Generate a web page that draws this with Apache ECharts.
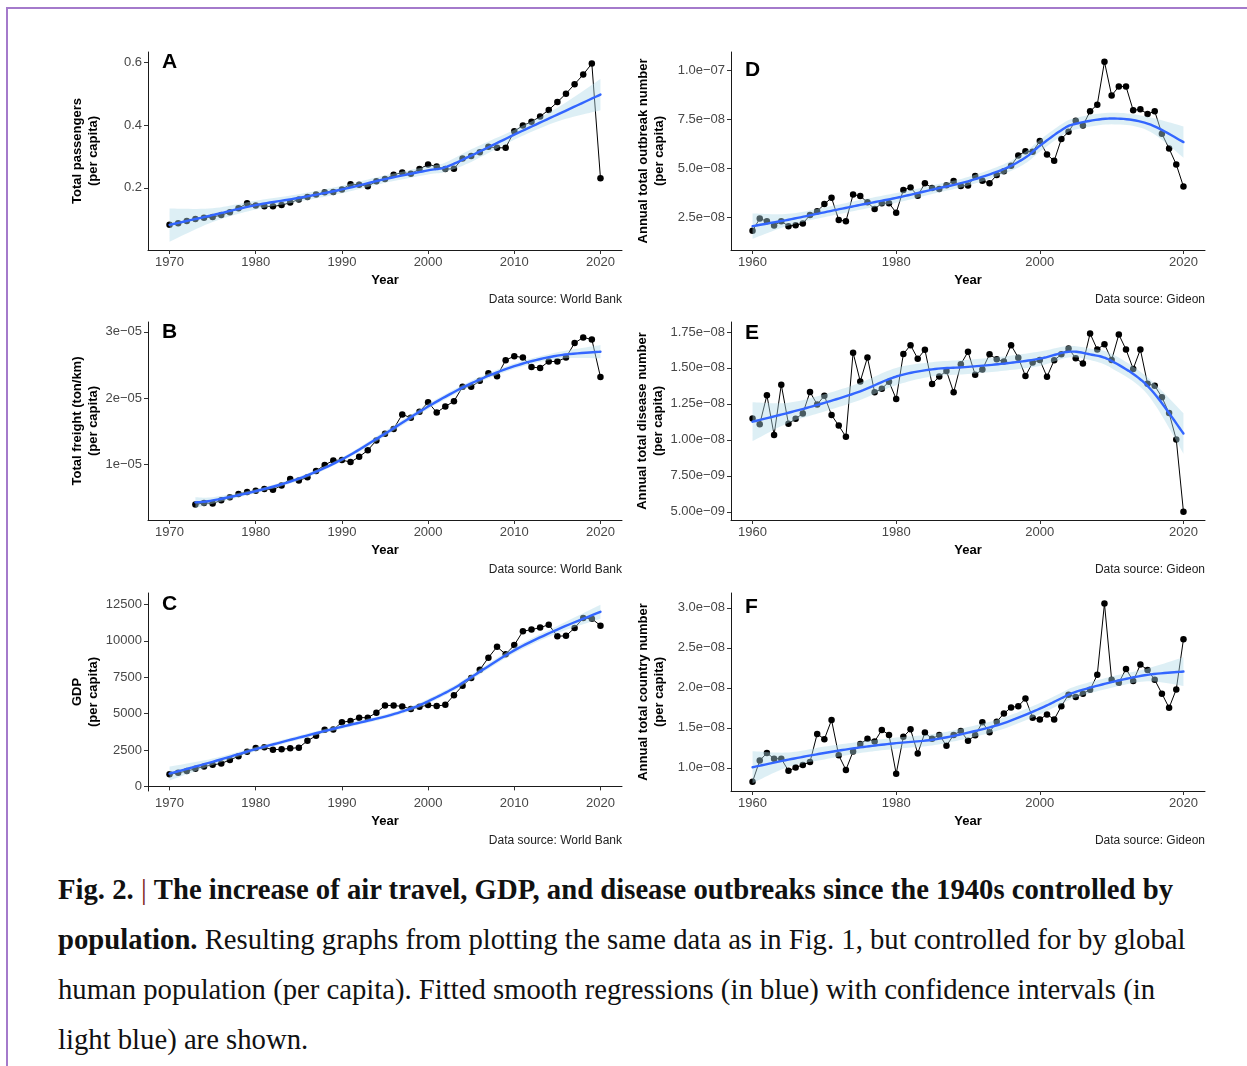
<!DOCTYPE html>
<html>
<head>
<meta charset="utf-8">
<title>Air travel, GDP and disease outbreaks per capita</title>
<script src="https://cdn.jsdelivr.net/npm/echarts@6/dist/echarts.min.js"></script>
<style>
  html, body { margin: 0; padding: 0; background: #ffffff; }
  #page { position: relative; width: 1247px; height: 1066px; overflow: hidden; background: #ffffff; }
  #frame { position: absolute; left: 6px; top: 7px; width: 1400px; height: 1200px;
           border-left: 2px solid #a47acb; border-top: 2px solid #a47acb; }
  #chart { position: absolute; left: 0; top: 0; width: 1247px; height: 860px; }
  #caption { position: absolute; left: 58px; top: 864px; font-family: 'Liberation Serif', 'Times New Roman', serif;
             font-size: 28.7px; line-height: 50px; color: #111; white-space: nowrap; }
  #caption .bar { color: #7a2020; font-weight: normal; }
</style>
</head>
<body>
<div id="page">
  <div id="frame"></div>
  <div id="chart"></div>
  <div id="caption">
    <div><b>Fig. 2.</b> <span class="bar">|</span> <b>The increase of air travel, GDP, and disease outbreaks since the 1940s controlled by</b></div>
    <div><b>population.</b> Resulting graphs from plotting the same data as in Fig. 1, but controlled for by global</div>
    <div>human population (per capita). Fitted smooth regressions (in blue) with confidence intervals (in</div>
    <div>light blue) are shown.</div>
  </div>
</div>
<script>
// ---------------- data ----------------
// A: total air passengers per capita, 1970-2020 (World Bank)
const passengersFirstYear = 1970;
const passengers = [
  0.082, 0.087, 0.094, 0.101, 0.105, 0.107, 0.113, 0.122, 0.135, 0.151,
  0.144, 0.141, 0.141, 0.145, 0.153, 0.163, 0.171, 0.179, 0.186, 0.187,
  0.195, 0.212, 0.210, 0.205, 0.221, 0.228, 0.242, 0.249, 0.245, 0.260,
  0.275, 0.268, 0.260, 0.261, 0.294, 0.302, 0.314, 0.331, 0.328, 0.328,
  0.381, 0.399, 0.411, 0.428, 0.449, 0.474, 0.501, 0.531, 0.562, 0.597,
  0.231
];
const passengersFitYears = [1970, 1975, 1980, 1985, 1990, 1995, 2000, 2002, 2005, 2010, 2015, 2020];
const passengersFit   = [0.082, 0.113, 0.145, 0.168, 0.195, 0.228, 0.256, 0.266, 0.303, 0.370, 0.434, 0.498];
const passengersLower = [0.028, 0.091, 0.131, 0.156, 0.183, 0.216, 0.243, 0.251, 0.283, 0.354, 0.412, 0.448];
const passengersUpper = [0.134, 0.135, 0.159, 0.180, 0.207, 0.240, 0.269, 0.281, 0.323, 0.386, 0.456, 0.548];

// B: total air freight (ton/km) per capita, 1973-2020, in units of 1e-5
const freightFirstYear = 1973;
const freight = [
  0.388, 0.413, 0.403, 0.453, 0.498, 0.547, 0.577,
  0.597, 0.622, 0.612, 0.677, 0.776, 0.751, 0.801, 0.896, 0.985, 1.055,
  1.060, 1.030, 1.109, 1.209, 1.358, 1.458, 1.532, 1.751, 1.701, 1.791,
  1.935, 1.781, 1.871, 1.950, 2.169, 2.169, 2.259, 2.373, 2.328, 2.572,
  2.632, 2.612, 2.468, 2.453, 2.552, 2.552, 2.612, 2.831, 2.915, 2.886,
  2.318
];
const freightFitYears = [1973, 1975, 1980, 1985, 1990, 1995, 2000, 2005, 2010, 2015, 2020];
const freightFit   = [0.42, 0.45, 0.59, 0.78, 1.07, 1.46, 1.87, 2.22, 2.48, 2.64, 2.70];
const freightLower = [0.34, 0.40, 0.56, 0.75, 1.04, 1.42, 1.83, 2.18, 2.44, 2.59, 2.60];
const freightUpper = [0.50, 0.50, 0.62, 0.81, 1.10, 1.50, 1.91, 2.26, 2.52, 2.69, 2.80];

// C: GDP per capita, 1970-2020
const gdpFirstYear = 1970;
const gdp = [
  826, 938, 1052, 1210, 1369, 1482, 1573, 1822, 2072, 2389,
  2638, 2684, 2525, 2548, 2616, 2661, 3137, 3477, 3885, 3908,
  4407, 4498, 4724, 4724, 5064, 5563, 5563, 5495, 5314, 5472,
  5586, 5518, 5608, 6266, 6923, 7445, 8011, 8850, 9598, 9077,
  9712, 10664, 10777, 10913, 11117, 10324, 10346, 10890, 11570, 11525,
  11049
];
const gdpFitYears = [1970, 1975, 1980, 1985, 1990, 1995, 1998, 2000, 2003, 2005, 2010, 2015, 2020];
const gdpFit   = [880, 1690, 2560, 3350, 4100, 4800, 5350, 5850, 6750, 7500, 9350, 10780, 12000];
const gdpLower = [400, 1470, 2410, 3210, 3960, 4660, 5200, 5690, 6580, 7320, 9150, 10530, 11520];
const gdpUpper = [1360, 1910, 2710, 3490, 4240, 4940, 5500, 6010, 6920, 7680, 9550, 11030, 12480];

// D: annual total outbreak number per capita, 1960-2020, in units of 1e-8 (Gideon)
const outbreaksFirstYear = 1960;
const outbreaks = [
  1.79, 2.42, 2.28, 2.06, 2.28, 2.03, 2.08, 2.16, 2.60, 2.79,
  3.16, 3.48, 2.35, 2.28, 3.65, 3.57, 3.25, 2.91, 3.21, 3.21,
  2.72, 3.89, 4.01, 3.59, 4.23, 3.99, 3.94, 4.13, 4.35, 4.09,
  4.11, 4.60, 4.36, 4.23, 4.65, 4.84, 5.13, 5.65, 5.87, 5.85,
  6.39, 5.70, 5.38, 6.50, 6.87, 7.44, 7.19, 7.92, 8.26, 10.46,
  8.73, 9.19, 9.19, 7.97, 8.02, 7.78, 7.92, 6.77, 6.01, 5.19,
  4.06
];
const outbreaksFitYears = [1960, 1965, 1970, 1975, 1980, 1985, 1990, 1995, 1998, 2000, 2003, 2005, 2010, 2015, 2020];
const outbreaksFit   = [2.03, 2.36, 2.74, 3.12, 3.48, 3.90, 4.33, 4.96, 5.55, 6.15, 6.95, 7.28, 7.55, 7.29, 6.34];
const outbreaksLower = [1.38, 2.06, 2.49, 2.87, 3.23, 3.68, 4.11, 4.71, 5.25, 5.85, 6.65, 6.98, 7.25, 6.94, 5.54];
const outbreaksUpper = [2.68, 2.66, 2.99, 3.37, 3.73, 4.12, 4.55, 5.21, 5.85, 6.45, 7.25, 7.58, 7.85, 7.64, 7.14];

// E: annual total disease number per capita, 1960-2020, in units of 1e-8 (Gideon)
const diseasesFirstYear = 1960;
const diseases = [
  1.149, 1.108, 1.310, 1.034, 1.383, 1.112, 1.147, 1.183, 1.333, 1.245,
  1.307, 1.172, 1.099, 1.021, 1.606, 1.406, 1.573, 1.330, 1.355, 1.404,
  1.284, 1.596, 1.658, 1.564, 1.626, 1.388, 1.440, 1.479, 1.330, 1.525,
  1.612, 1.452, 1.489, 1.594, 1.560, 1.544, 1.658, 1.571, 1.443, 1.537,
  1.555, 1.438, 1.553, 1.594, 1.635, 1.567, 1.530, 1.739, 1.628, 1.665,
  1.555, 1.732, 1.628, 1.493, 1.628, 1.390, 1.376, 1.296, 1.186, 1.002,
  0.500
];
const diseasesFitYears = [1960, 1965, 1970, 1975, 1980, 1985, 1990, 1995, 2000, 2004, 2007, 2010, 2015, 2020];
const diseasesFit   = [1.126, 1.188, 1.257, 1.337, 1.440, 1.490, 1.507, 1.530, 1.564, 1.612, 1.594, 1.548, 1.375, 1.044];
const diseasesLower = [0.991, 1.118, 1.197, 1.277, 1.380, 1.440, 1.457, 1.480, 1.514, 1.572, 1.554, 1.498, 1.315, 0.904];
const diseasesUpper = [1.261, 1.258, 1.317, 1.397, 1.500, 1.540, 1.557, 1.580, 1.614, 1.652, 1.634, 1.598, 1.435, 1.184];

// F: annual total country number per capita, 1960-2020, in units of 1e-8 (Gideon)
const countriesFirstYear = 1960;
const countries = [
  0.827, 1.091, 1.186, 1.115, 1.115, 0.963, 1.004, 1.037, 1.074, 1.425,
  1.359, 1.598, 1.157, 0.975, 1.206, 1.297, 1.363, 1.330, 1.474, 1.412,
  0.926, 1.388, 1.482, 1.181, 1.441, 1.363, 1.412, 1.276, 1.412, 1.462,
  1.338, 1.408, 1.569, 1.445, 1.577, 1.680, 1.755, 1.771, 1.866, 1.627,
  1.606, 1.668, 1.606, 1.771, 1.915, 1.887, 1.928, 1.977, 2.163, 3.054,
  2.101, 2.064, 2.237, 2.085, 2.291, 2.225, 2.101, 1.928, 1.751, 1.981,
  2.608
];
const countriesFitYears = [1960, 1965, 1970, 1975, 1980, 1985, 1990, 1995, 2000, 2003, 2005, 2010, 2015, 2020];
const countriesFit   = [1.008, 1.103, 1.186, 1.256, 1.309, 1.351, 1.440, 1.560, 1.740, 1.870, 1.950, 2.072, 2.163, 2.204];
const countriesLower = [0.808, 1.013, 1.106, 1.186, 1.239, 1.281, 1.370, 1.490, 1.670, 1.800, 1.880, 2.002, 2.083, 2.024];
const countriesUpper = [1.208, 1.193, 1.266, 1.326, 1.379, 1.421, 1.510, 1.630, 1.810, 1.940, 2.020, 2.142, 2.243, 2.384];

// tick positions and labels
const yearTicks1970 = [1970, 1980, 1990, 2000, 2010, 2020];
const yearTicks1960 = [1960, 1980, 2000, 2020];
const passengerTicks = [0.2, 0.4, 0.6];
const passengerTickLabels = ['0.2', '0.4', '0.6'];
const freightTicks = [1, 2, 3];
const freightTickLabels = ['1e\u221205', '2e\u221205', '3e\u221205'];
const gdpTicks = [0, 2500, 5000, 7500, 10000, 12500];
const gdpTickLabels = ['0', '2500', '5000', '7500', '10000', '12500'];
const outbreakTicks = [2.5, 5.0, 7.5, 10.0];
const outbreakTickLabels = ['2.5e\u221208', '5.0e\u221208', '7.5e\u221208', '1.0e\u221207'];
const diseaseTicks = [0.5, 0.75, 1.0, 1.25, 1.5, 1.75];
const diseaseTickLabels = ['5.00e\u221209', '7.50e\u221209', '1.00e\u221208', '1.25e\u221208', '1.50e\u221208', '1.75e\u221208'];
const countryTicks = [1.0, 1.5, 2.0, 2.5, 3.0];
const countryTickLabels = ['1.0e\u221208', '1.5e\u221208', '2.0e\u221208', '2.5e\u221208', '3.0e\u221208'];

// ---------------- layout ----------------
const FONT = "'Liberation Sans', Arial, Helvetica, sans-serif";
const POINT_COLOR = '#000000';
const FIT_COLOR = '#3366FF';
const BAND_FILL = 'rgba(173, 216, 230, 0.42)';

const panels = [
  { letter: 'A', left: 148, top: 52, xMin: 1967.5, xMax: 2022.5, xTicks: yearTicks1970,
    yMin: 0.0016, yMax: 0.634, yTicks: passengerTicks, yLabels: passengerTickLabels,
    first: passengersFirstYear, values: passengers,
    fitYears: passengersFitYears, fit: passengersFit, lower: passengersLower, upper: passengersUpper,
    title: 'Total passengers\n(per capita)', nameGap: 47, source: 'Data source: World Bank', letterY: 62 },
  { letter: 'B', left: 148, top: 322, xMin: 1967.5, xMax: 2022.5, xTicks: yearTicks1970,
    yMin: 0.154, yMax: 3.149, yTicks: freightTicks, yLabels: freightTickLabels,
    first: freightFirstYear, values: freight,
    fitYears: freightFitYears, fit: freightFit, lower: freightLower, upper: freightUpper,
    title: 'Total freight (ton/km)\n(per capita)', nameGap: 47, source: 'Data source: World Bank', letterY: 332 },
  { letter: 'C', left: 148, top: 593, xMin: 1967.5, xMax: 2022.5, xTicks: yearTicks1970,
    yMin: -317, yMax: 13293, yTicks: gdpTicks, yLabels: gdpTickLabels,
    first: gdpFirstYear, values: gdp,
    fitYears: gdpFitYears, fit: gdpFit, lower: gdpLower, upper: gdpUpper,
    title: 'GDP\n(per capita)', nameGap: 47, source: 'Data source: World Bank', letterY: 604 },
  { letter: 'D', left: 731, top: 52, xMin: 1957, xMax: 2023, xTicks: yearTicks1960,
    yMin: 0.807, yMax: 10.96, yTicks: outbreakTicks, yLabels: outbreakTickLabels,
    first: outbreaksFirstYear, values: outbreaks,
    fitYears: outbreaksFitYears, fit: outbreaksFit, lower: outbreaksLower, upper: outbreaksUpper,
    title: 'Annual total outbreak number\n(per capita)', nameGap: 64, source: 'Data source: Gideon', letterY: 70 },
  { letter: 'E', left: 731, top: 322, xMin: 1957, xMax: 2023, xTicks: yearTicks1960,
    yMin: 0.4427, yMax: 1.819, yTicks: diseaseTicks, yLabels: diseaseTickLabels,
    first: diseasesFirstYear, values: diseases,
    fitYears: diseasesFitYears, fit: diseasesFit, lower: diseasesLower, upper: diseasesUpper,
    title: 'Annual total disease number\n(per capita)', nameGap: 64, source: 'Data source: Gideon', letterY: 333 },
  { letter: 'F', left: 731, top: 593, xMin: 1957, xMax: 2023, xTicks: yearTicks1960,
    yMin: 0.711, yMax: 3.186, yTicks: countryTicks, yLabels: countryTickLabels,
    first: countriesFirstYear, values: countries,
    fitYears: countriesFitYears, fit: countriesFit, lower: countriesLower, upper: countriesUpper,
    title: 'Annual total country number\n(per capita)', nameGap: 64, source: 'Data source: Gideon', letterY: 607 }
];
const PANEL_W = 474;
const PANEL_H = 198;

// Catmull-Rom resampling of pixel points, giving the fit line and its band smooth edges
function smoothPixels(pts, steps) {
  const out = [];
  for (let i = 0; i < pts.length - 1; i++) {
    const p0 = pts[i - 1] || pts[i];
    const p1 = pts[i];
    const p2 = pts[i + 1];
    const p3 = pts[i + 2] || pts[i + 1];
    const c1 = [p1[0] + (p2[0] - p0[0]) / 6, p1[1] + (p2[1] - p0[1]) / 6];
    const c2 = [p2[0] - (p3[0] - p1[0]) / 6, p2[1] - (p3[1] - p1[1]) / 6];
    for (let s = 0; s < steps; s++) {
      const t = s / steps, u = 1 - t;
      out.push([
        u * u * u * p1[0] + 3 * u * u * t * c1[0] + 3 * u * t * t * c2[0] + t * t * t * p2[0],
        u * u * u * p1[1] + 3 * u * u * t * c1[1] + 3 * u * t * t * c2[1] + t * t * t * p2[1]
      ]);
    }
  }
  out.push(pts[pts.length - 1]);
  return out;
}

const grid = [], xAxis = [], yAxis = [], series = [], graphic = [];

panels.forEach(function (p, i) {
  grid.push({ left: p.left, top: p.top, width: PANEL_W, height: PANEL_H, containLabel: false });

  xAxis.push({
    type: 'value', gridIndex: i, min: p.xMin, max: p.xMax,
    name: 'Year', nameLocation: 'middle', nameGap: 24,
    nameTextStyle: { fontFamily: FONT, fontSize: 13, fontWeight: 'bold', color: '#000' },
    axisLine: { show: true, lineStyle: { color: '#1a1a1a', width: 1 } },
    axisTick: { show: true, length: 4, customValues: p.xTicks, lineStyle: { color: '#333', width: 1 } },
    axisLabel: { customValues: p.xTicks, color: '#474747', fontFamily: FONT, fontSize: 13, margin: 6,
                 formatter: function (v) { return String(Math.round(v)); } },
    splitLine: { show: false }
  });

  yAxis.push({
    type: 'value', gridIndex: i, min: p.yMin, max: p.yMax,
    name: p.title, nameLocation: 'middle', nameGap: p.nameGap, nameRotate: 90,
    nameTextStyle: { fontFamily: FONT, fontSize: 13, fontWeight: 'bold', color: '#000', lineHeight: 16 },
    axisLine: { show: true, lineStyle: { color: '#1a1a1a', width: 1 } },
    axisTick: { show: true, length: 4, customValues: p.yTicks, lineStyle: { color: '#333', width: 1 } },
    axisLabel: { customValues: p.yTicks, color: '#474747', fontFamily: FONT, fontSize: 13, margin: 6,
                 formatter: function (v) {
                   let best = 0;
                   p.yTicks.forEach(function (t, k) { if (Math.abs(t - v) < Math.abs(p.yTicks[best] - v)) best = k; });
                   return p.yLabels[best];
                 } },
    splitLine: { show: false }
  });

  // observed series: black line with points
  series.push({
    type: 'line', xAxisIndex: i, yAxisIndex: i, z: 2, silent: true, animation: false,
    data: p.values.map(function (v, k) { return [p.first + k, v]; }),
    symbol: 'circle', symbolSize: 6.5, showSymbol: true,
    itemStyle: { color: POINT_COLOR },
    lineStyle: { color: POINT_COLOR, width: 1 }
  });

  // confidence band of the smooth fit, drawn over the points
  series.push({
    type: 'custom', xAxisIndex: i, yAxisIndex: i, z: 3, silent: true, animation: false,
    data: [[p.fitYears[0], p.fit[0]]],
    renderItem: function (params, api) {
      const upperPx = p.fitYears.map(function (yr, k) { return api.coord([yr, p.upper[k]]); });
      const lowerPx = p.fitYears.map(function (yr, k) { return api.coord([yr, p.lower[k]]); });
      const pts = smoothPixels(upperPx, 12).concat(smoothPixels(lowerPx.reverse(), 12));
      return { type: 'polygon', shape: { points: pts }, style: { fill: BAND_FILL, stroke: null } };
    }
  });

  // smooth fit line
  series.push({
    type: 'custom', xAxisIndex: i, yAxisIndex: i, z: 4, silent: true, animation: false,
    data: [[p.fitYears[0], p.fit[0]]],
    renderItem: function (params, api) {
      const fitPx = p.fitYears.map(function (yr, k) { return api.coord([yr, p.fit[k]]); });
      return { type: 'polyline', shape: { points: smoothPixels(fitPx, 12) },
               style: { stroke: FIT_COLOR, lineWidth: 2.4, fill: null, lineJoin: 'round', lineCap: 'round' } };
    }
  });

  // panel letter
  graphic.push({
    type: 'text', x: p.left + 14, y: p.letterY, silent: true,
    style: { text: p.letter, fontFamily: FONT, fontSize: 21, fontWeight: 'bold', fill: '#000',
             align: 'left', verticalAlign: 'middle' }
  });
  // data source note
  graphic.push({
    type: 'text', x: p.left + PANEL_W, y: p.top + PANEL_H + 50, silent: true,
    style: { text: p.source, fontFamily: FONT, fontSize: 12, fill: '#222',
             align: 'right', verticalAlign: 'middle' }
  });
});

const chart = echarts.init(document.getElementById('chart'), null, { renderer: 'canvas' });
chart.setOption({
  animation: false,
  backgroundColor: 'transparent',
  grid: grid, xAxis: xAxis, yAxis: yAxis, series: series, graphic: graphic
});
</script>
</body>
</html>
